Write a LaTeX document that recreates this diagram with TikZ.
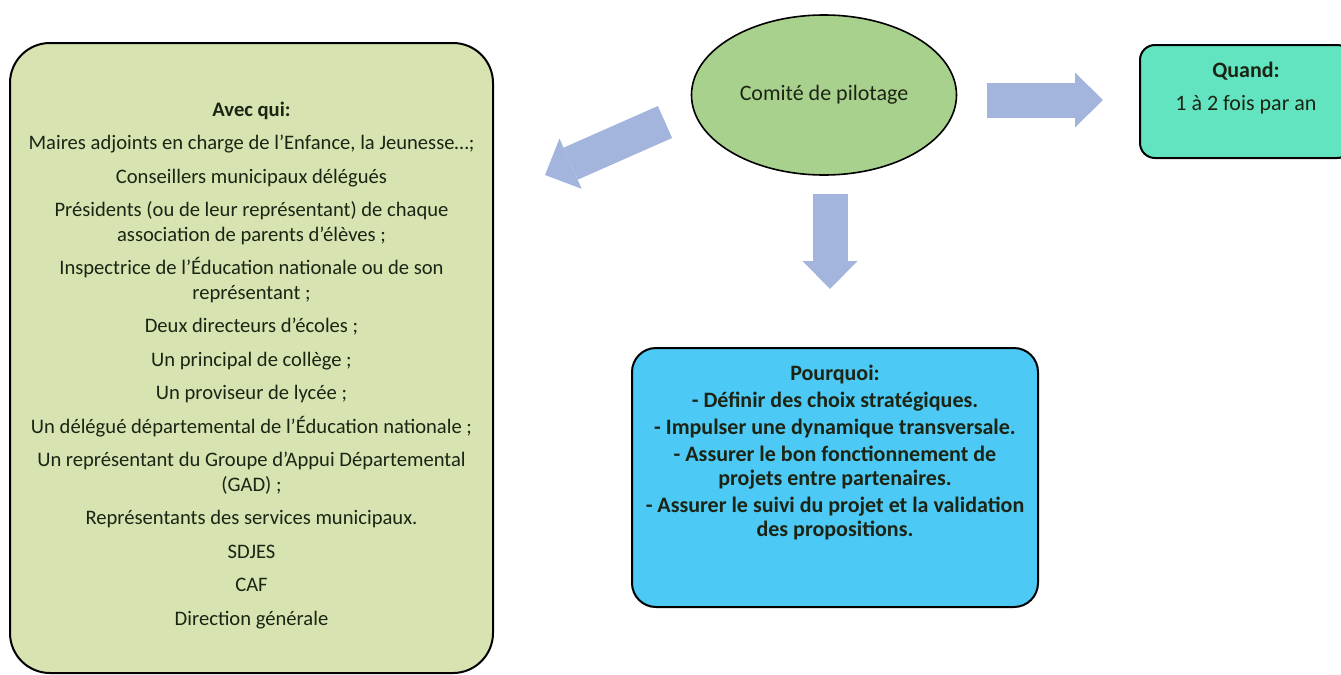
\documentclass[tikz,border=0pt]{standalone}
\usepackage{fontspec}
\setmainfont{Carlito}
\usetikzlibrary{arrows.meta,shapes.geometric,calc}
\definecolor{quibg}{HTML}{D7E4B1}
\definecolor{copilbg}{HTML}{A9D18E}
\definecolor{quandbg}{HTML}{62E4C1}
\definecolor{pourqbg}{HTML}{4DC9F6}
\definecolor{flecbg}{HTML}{A3B4DD}
\definecolor{txtdark}{HTML}{1C2414}
\newcommand{\boxtop}[3]{\begin{minipage}[c][#2][t]{#1}\centering #3\end{minipage}}

\begin{document}
\begin{tikzpicture}[x=0.5pt,y=-0.5pt,
    boite/.style={draw=black,line width=1pt,text=txtdark,inner sep=0pt,
      font=\fontsize{11}{12}\selectfont},
    bigarrow/.style={draw=flecbg,line width=17.5pt,
      -{Triangle[width=27.5pt,length=14pt,line width=0pt]}}]
  \useasboundingbox (0,0) rectangle (1341,675);
  \clip (0,0) rectangle (1341,675);

  % boites
  \node[boite,ellipse,fill=copilbg,line width=0.8pt,minimum width=132.5pt,minimum height=80pt] (copil) at (824,95) {Comité de pilotage};
  \node[boite,fill=quibg,rounded corners=20pt,font=\fontsize{10.3}{12.25}\selectfont] (avecqui) at (251.5,358) {\boxtop{241.5pt}{315pt}{\vspace*{29.5pt}
    \textbf{Avec qui:}\\[4.5pt]
    Maires adjoints en charge de l’Enfance, la Jeunesse…;\\[4.5pt]
    Conseillers municipaux délégués\\[4.5pt]
    Présidents (ou de leur représentant) de chaque\\
    association de parents d’élèves ;\\[4.5pt]
    Inspectrice de l’Éducation nationale ou de son\\
    représentant ;\\[4.5pt]
    Deux directeurs d’écoles ;\\[4.5pt]
    Un principal de collège ;\\[4.5pt]
    Un proviseur de lycée ;\\[4.5pt]
    Un délégué départemental de l’Éducation nationale ;\\[4.5pt]
    Un représentant du Groupe d’Appui Départemental\\
    (GAD) ;\\[4.5pt]
    Représentants des services municipaux.\\[4.5pt]
    SDJES\\[4.5pt]
    CAF\\[4.5pt]
    Direction générale}};
  \node[boite,fill=quandbg,rounded corners=7.5pt] (quand) at (1246,101.5) {\boxtop{106pt}{56.5pt}{\vspace*{8.5pt}
    \textbf{Quand:}\\[4.5pt]
    1 à 2 fois par an}};
  \node[boite,fill=pourqbg,rounded corners=12pt] (pourquoi) at (835,477.5) {\boxtop{203pt}{129.5pt}{\vspace*{8.3pt}\bfseries
    Pourquoi:\\[1.5pt]
    - Définir des choix stratégiques.\\[1.5pt]
    - Impulser une dynamique transversale.\\[1.5pt]
    - Assurer le bon fonctionnement de\\
    projets entre partenaires.\\[1.5pt]
    - Assurer le suivi du projet et la validation\\
    des propositions.}};

  % fleches
  \coordinate (aq-from) at (665,122);
  \coordinate (aq-to) at (545,175);
  \draw[bigarrow] (aq-from) -- (aq-to);
  \draw[bigarrow,shorten <=9pt,shorten >=29pt] ([xshift=3pt]copil.south) -- ([xshift=3pt]copil.south |- pourquoi.north);
  \draw[bigarrow,shorten <=15pt,shorten >=18pt] ([yshift=-2.5pt]copil.east) -- ([yshift=-2.5pt]copil.east -| quand.west);
\end{tikzpicture}
\end{document}
